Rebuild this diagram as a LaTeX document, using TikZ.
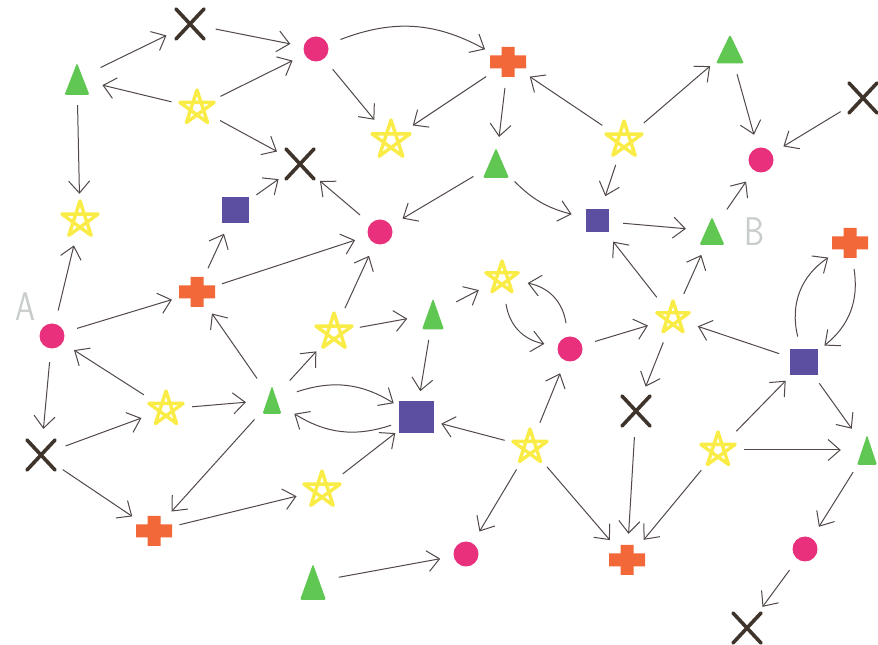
\documentclass[tikz,border=0pt]{standalone}
\usetikzlibrary{arrows.meta}
\definecolor{edgecol}{RGB}{82,72,72}
\definecolor{pinkc}{RGB}{232,48,125}
\definecolor{orangec}{RGB}{242,104,56}
\definecolor{greenc}{RGB}{96,200,82}
\definecolor{purplec}{RGB}{92,78,160}
\definecolor{yellowc}{RGB}{250,236,70}
\definecolor{crossc}{RGB}{62,52,44}
\definecolor{labelc}{RGB}{200,204,204}
\tikzset{
  glyph/.style={circle, minimum size=52pt, inner sep=0pt},
  dotg/.style={glyph, path picture={\fill[pinkc] (path picture bounding box.center) circle[radius=12.5pt];}},
  sqg/.style 2 args={glyph, path picture={\fill[purplec, shift={(path picture bounding box.center)}] (-#1,-#2) rectangle (#1,#2);}},
  plusg/.style={glyph, path picture={\fill[orangec, shift={(path picture bounding box.center)}] (-18,-6.5) rectangle (18,6.5) (-6.5,-15) rectangle (6.5,15);}},
  trig/.style 2 args={glyph, path picture={\fill[greenc, rounded corners=1.5pt, shift={(path picture bounding box.center)}] (0,#2) -- (-#1,-#2) -- (#1,-#2) -- cycle;}},
  starg/.style={glyph, path picture={\draw[yellowc, line width=3.4pt, line join=round, shift={(path picture bounding box.center)}] (90:#1) -- (234:#1) -- (18:#1) -- (162:#1) -- (306:#1) -- cycle;}},
  starg/.default=18,
  xmark/.style={glyph, path picture={\draw[crossc, line width=3.6pt, line cap=round, shift={(path picture bounding box.center)}] (-14,15) -- (14,-15) (14,15) -- (-14,-15);}},
  lab/.style={font=\sffamily\fontsize{40}{40}\selectfont, text=labelc, xscale=0.8, inner sep=0pt},
  conn/.style={draw=edgecol, line width=1pt, -{Straight Barb[length=12pt,width=21pt]}},
}
\begin{document}
\begin{tikzpicture}[x=1pt,y=1pt]
\fill[white] (0,0) rectangle (878,645);
\useasboundingbox (0,0) rectangle (878,645);
% nodes
\node[xmark] (x1) at (190,621) {};
\node[dotg] (c1) at (316,596) {};
\node[plusg] (p1) at (508,583) {};
\node[trig={14}{14.5}] (t1) at (730,596) {};
\node[xmark] (x2) at (863,547) {};
\node[trig={12.5}{16}] (t2) at (77,566) {};
\node[starg] (s1) at (197,537) {};
\node[starg=20] (s2) at (391,505) {};
\node[xmark] (x3) at (300,481) {};
\node[trig={13}{15}] (t3) at (496,482) {};
\node[starg=19] (s3) at (624,505) {};
\node[dotg] (c2) at (761,485) {};
\node[starg=19] (s4) at (80,425) {};
\node[sqg={13.5}{13}] (q1) at (235,435) {};
\node[dotg] (c3) at (380,413) {};
\node[sqg={11.5}{11.5}] (q2) at (597,424) {};
\node[trig={12.5}{14}] (t4) at (712,414) {};
\node[plusg] (p2) at (850,402) {};
\node[dotg] (c4) at (52,309) {};
\node[plusg] (p3) at (197,353) {};
\node[starg=17] (s5) at (502,367) {};
\node[starg=19] (s6) at (334,313) {};
\node[trig={11}{15.5}] (t5) at (433,331) {};
\node[dotg] (c5) at (570,296) {};
\node[starg=17] (s7) at (673,327) {};
\node[sqg={14}{13}] (q3) at (804,283) {};
\node[starg] (s8) at (166,236) {};
\node[trig={9.5}{14}] (t6) at (272,245) {};
\node[sqg={17.5}{16}] (q4) at (416,228) {};
\node[xmark] (x4) at (636,234) {};
\node[xmark] (x5) at (41,190) {};
\node[starg] (s9) at (530,198) {};
\node[starg] (s10) at (718,195) {};
\node[trig={10}{15}] (t7) at (867,195) {};
\node[starg=19] (s11) at (322,155) {};
\node[plusg] (p4) at (154,114) {};
\node[dotg] (c6) at (466,91) {};
\node[plusg] (p5) at (627,85) {};
\node[trig={13}{18}] (t8) at (313,63) {};
\node[dotg] (c7) at (805,96) {};
\node[xmark] (x6) at (747,17) {};
\node[lab] (lA) at (25,338) {A};
\node[lab] (lB) at (755,413) {B};
% connectors
\draw[conn] (t2) -- (x1);
\draw[conn] (x1) -- (c1);
\draw[conn] (c1) to[bend left=25] (p1);
\draw[conn] (s1) -- (t2);
\draw[conn] (s1) -- (c1);
\draw[conn] (s1) -- (x3);
\draw[conn] (c1) -- (s2);
\draw[conn] (p1) -- (s2);
\draw[conn] (q1) -- (x3);
\draw[conn] (c3) -- (x3);
\draw[conn] (p1) -- (t3);
\draw[conn] (t3) -- (c3);
\draw[conn] (t3) to[bend right=15] (q2);
\draw[conn] (s3) -- (p1);
\draw[conn] (s3) -- (t1);
\draw[conn] (s3) -- (q2);
\draw[conn] (t1) -- (c2);
\draw[conn] (x2) -- (c2);
\draw[conn] (t4) -- (c2);
\draw[conn] (q2) -- (t4);
\draw[conn] (t2) -- (s4);
\draw[conn] (c4) -- (s4);
\draw[conn] (c4) -- (p3);
\draw[conn] (p3) -- (q1);
\draw[conn] (p3) -- (c3);
\draw[conn] (s8) -- (c4);
\draw[conn] (c4) -- (x5);
\draw[conn] (x5) -- (s8);
\draw[conn] (x5) -- (p4);
\draw[conn] (t6) -- (p3);
\draw[conn] (t6) -- (s6);
\draw[conn] (s6) -- (c3);
\draw[conn] (s6) -- (t5);
\draw[conn] (t5) -- (q4);
\draw[conn] (t5) -- (s5);
\draw[conn] (s5) to[bend right=35] (c5);
\draw[conn] (c5) to[bend right=35] (s5);
\draw[conn] (c5) -- (s7);
\draw[conn] (s7) -- (q2);
\draw[conn] (s7) -- (t4);
\draw[conn] (s7) -- (x4);
\draw[conn] (q3) -- (s7);
\draw[conn] (q3) to[bend left=35] (p2);
\draw[conn] (p2) to[bend left=30] (q3);
\draw[conn] (s8) -- (t6);
\draw[conn] (t6) to[bend left=25] (q4);
\draw[conn] (q4) to[bend left=25] (t6);
\draw[conn] (t6) -- (p4);
\draw[conn] (p4) -- (s11);
\draw[conn] (s11) -- (q4);
\draw[conn] (s9) -- (q4);
\draw[conn] (s9) -- (c5);
\draw[conn] (s9) -- (c6);
\draw[conn] (s9) -- (p5);
\draw[conn] (x4) -- (p5);
\draw[conn] (s10) -- (p5);
\draw[conn] (s10) -- (q3);
\draw[conn] (s10) -- (t7);
\draw[conn] (q3) -- (t7);
\draw[conn] (t7) -- (c7);
\draw[conn] (c7) -- (x6);
\draw[conn] (t8) -- (c6);
\end{tikzpicture}
\end{document}
